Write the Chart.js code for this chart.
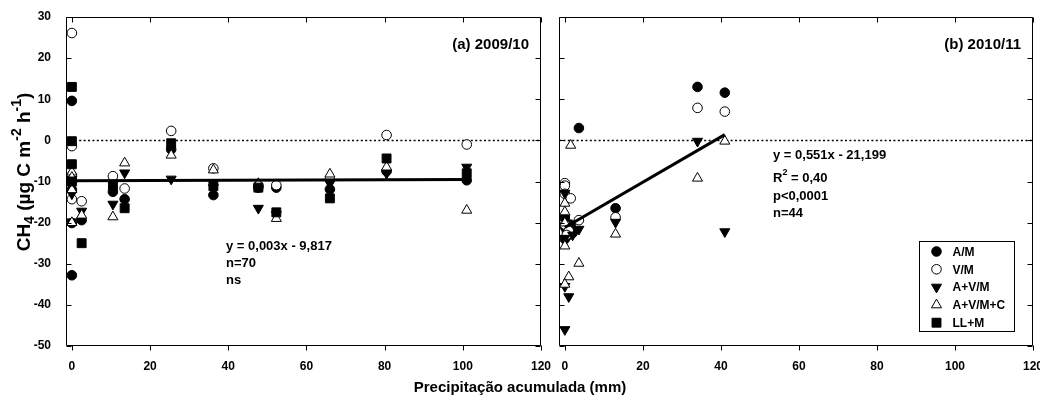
<!DOCTYPE html>
<html>
<head>
<meta charset="utf-8">
<title>CH4 x precipitação</title>
<script src="https://cdn.jsdelivr.net/npm/chart.js@4.4.1/dist/chart.umd.min.js"></script>
<style>
    body { margin: 0; background: #fff; width: 1040px; height: 400px; position: relative; overflow: hidden; }
    canvas { position: absolute; top: 0; }
    #chartA { left: 0; }
    #chartB { left: 548px; }
    #xTitle {
        position: absolute; left: 0; top: 378px; width: 1040px; text-align: center;
        font: bold 15px "Liberation Sans", Arial, sans-serif; color: #000;
    }
</style>
</head>
<body>
<canvas id="chartA" width="562" height="400"></canvas>
<canvas id="chartB" width="492" height="400"></canvas>
<div id="xTitle">Precipitação acumulada (mm)</div>
<script>
// Series and axis ticks
const seriesNames = ['A/M', 'V/M', 'A+V/M', 'A+V/M+C', 'LL+M'];
const xTicks = [0, 20, 40, 60, 80, 100, 120];
const yTicks = [-50, -40, -30, -20, -10, 0, 10, 20, 30];

// (a) 2009/10 - same precipitation values for every treatment
const precipA = [0, 0, 0, 0, 2.5, 10.5, 13.5, 25.4, 36.2, 47.7, 52.3, 66, 80.5, 101];
const amA    = [9.6, -12, -20.1, -32.8, -19.4, -12.5, -14.3, -2.2, -13.3, -11.5, -11.5, -11.9, -7.5, -9.7];
const vmA    = [26.1, -1.4, -8.5, -14.3, -14.8, -8.7, -11.7, 2.3, -6.8, -11, -10.9, -9.5, 1.3, -1.0];
const avmA   = [-9.5, -11, -13, -19.8, -17.2, -15.5, -7.9, -9.4, -11.5, -16.5, -18, -10.5, -8, -6.5];
const avmcA  = [-7.7, -9, -12, -20, -18.2, -18.6, -5.5, -3.6, -7.2, -10.5, -19, -8.2, -6.5, -17];
const llmA   = [13, -0.2, -5.8, -10, -25, -11, -16.5, -0.7, -11.1, -11.5, -17.5, -14.1, -4.4, -8];

// (b) 2010/11 - no LL+M samples
const amBx   = [0, 0, 0.5, 1, 0, 1.5, 2, 3.6, 13, 34, 41];
const amB    = [-19, -21, -22, -23, -24, -20.5, -22.5, 3.0, -16.5, 13.0, 11.6];
const vmBx   = [0, 0, 0, 1.5, 0, 1, 0.5, 3.6, 13, 34, 41];
const vmB    = [-10.4, -11, -13, -14.1, -20.5, -22, -23, -19.4, -18.7, 7.9, 7.0];
const avmBx  = [0, 0, 0, 0, 1, 2, 0, 3.6, 13, 34, 41];
const avmB   = [-12.8, -19, -23.8, -35.5, -38, -23, -46, -21.6, -19.9, -0.2, -22.2];
const avmcBx = [1.5, 0, 0, 0, 0, 1, 0, 3.6, 13, 34, 41];
const avmcB  = [-1.2, -15.3, -17.4, -20.1, -25.7, -33.2, -35, -29.9, -22.8, -9.2, -0.2];

// Linear fits: slope, intercept, fitted range
const fitA = { slope: 0.003, intercept: -9.817, from: 0, to: 101 };
const fitB = { slope: 0.551, intercept: -21.199, from: 0, to: 41 };

const FONT = '"Liberation Sans", Arial, sans-serif';

const markers = [
    { pointStyle: 'circle',   fill: '#000', rotation: 0,   radius: 4.8 },
    { pointStyle: 'circle',   fill: '#fff', rotation: 0,   radius: 4.8 },
    { pointStyle: 'triangle', fill: '#000', rotation: 180, radius: 5.8 },
    { pointStyle: 'triangle', fill: '#fff', rotation: 0,   radius: 5.8 },
    { pointStyle: 'rect',     fill: '#000', rotation: 0,   radius: 6.3 }
];

function pointSet(i, xs, ys) {
    const m = markers[i];
    return {
        label: seriesNames[i],
        data: ys.map((y, k) => ({ x: xs[k], y: y })),
        pointStyle: m.pointStyle,
        rotation: m.rotation,
        pointRadius: m.radius,
        backgroundColor: m.fill,
        borderColor: '#000',
        borderWidth: 1,
        showLine: false,
        order: 5 - i
    };
}

function fitSet(fit) {
    return {
        label: 'fit',
        data: [fit.from, fit.to].map(x => ({ x: x, y: fit.slope * x + fit.intercept })),
        showLine: true,
        borderColor: '#000',
        borderWidth: 3,
        pointRadius: 0,
        order: -1
    };
}

// text with sub/superscript pieces: [text, 'sub'|'sup'|undefined]
function richText(ctx, parts, x, y, size, align) {
    const small = Math.round(size * 0.72);
    const widths = parts.map(p => {
        ctx.font = 'bold ' + (p[1] ? small : size) + 'px ' + FONT;
        return ctx.measureText(p[0]).width;
    });
    const total = widths.reduce((a, b) => a + b, 0);
    let cx = align === 'center' ? x - total / 2 : x;
    parts.forEach((p, i) => {
        ctx.font = 'bold ' + (p[1] ? small : size) + 'px ' + FONT;
        let dy = 0;
        if (p[1] === 'sup') dy = -size * 0.42;
        if (p[1] === 'sub') dy = size * 0.25;
        ctx.fillText(p[0], cx, y + dy);
        cx += widths[i];
    });
}

// frame, inward ticks, dotted zero line and text notes
const framePlugin = {
    id: 'frame',
    beforeDatasetsDraw(chart) {
        const { ctx, chartArea: a, scales: { y } } = chart;
        const y0 = Math.round(y.getPixelForValue(0)) + 0.5;
        ctx.save();
        ctx.strokeStyle = '#000';
        ctx.lineWidth = 1.5;
        ctx.setLineDash([2, 2.4]);
        ctx.beginPath();
        ctx.moveTo(a.left, y0);
        ctx.lineTo(a.right, y0);
        ctx.stroke();
        ctx.restore();
    },
    afterDatasetsDraw(chart, args, opts) {
        const { ctx, chartArea: a, scales: { x, y } } = chart;
        const L = Math.round(a.left) + 0.5, R = Math.round(a.right) - 0.5;
        const T = Math.round(a.top) + 0.5, B = Math.round(a.bottom) - 0.5;
        ctx.save();
        ctx.strokeStyle = '#000';
        ctx.lineWidth = 1;
        ctx.beginPath();
        ctx.rect(L, T, R - L, B - T);
        xTicks.forEach(v => {
            const px = Math.round(x.getPixelForValue(v)) + 0.5;
            ctx.moveTo(px, B); ctx.lineTo(px, B + 5);
            ctx.moveTo(px, T); ctx.lineTo(px, T + 5);
        });
        yTicks.forEach(v => {
            const py = Math.round(y.getPixelForValue(v)) + 0.5;
            ctx.moveTo(L, py); ctx.lineTo(L + 5, py);
            ctx.moveTo(R, py); ctx.lineTo(R - 5, py);
        });
        ctx.stroke();

        ctx.fillStyle = '#000';
        ctx.textBaseline = 'middle';
        ctx.textAlign = 'right';
        ctx.font = 'bold 15px ' + FONT;
        ctx.fillText(opts.title, a.right - 12, a.top + 28);

        ctx.textAlign = 'left';
        opts.notes.forEach(n => richText(ctx, n.parts, n.x, n.y, 13, 'left'));

        if (opts.yTitle) {
            ctx.save();
            ctx.translate(25, 172);
            ctx.rotate(-Math.PI / 2);
            richText(ctx, [['CH'], ['4', 'sub'], [' (µg C m'], ['-2', 'sup'], [' h'], ['-1', 'sup'], [')']], 0, 0, 19, 'center');
            ctx.restore();
        }
        if (opts.legend) drawLegend(ctx, a);
        ctx.restore();
    }
};

function drawLegend(ctx, a) {
    const bx = a.right - 113.5, by = a.bottom - 104.5, bw = 95, bh = 90;
    ctx.lineWidth = 1;
    ctx.strokeStyle = '#000';
    ctx.fillStyle = '#fff';
    ctx.fillRect(bx, by, bw, bh);
    ctx.strokeRect(bx, by, bw, bh);
    seriesNames.forEach((name, i) => {
        const cy = by + 10 + i * 17.8;
        const m = markers[i];
        ctx.fillStyle = m.fill;
        ctx.strokeStyle = '#000';
        Chart.helpers.drawPoint(ctx, {
            pointStyle: m.pointStyle, rotation: m.rotation, radius: m.radius, borderWidth: 1
        }, bx + 17, cy);
        ctx.fillStyle = '#000';
        ctx.font = 'bold 12px ' + FONT;
        ctx.textAlign = 'left';
        ctx.textBaseline = 'middle';
        ctx.fillText(name, bx + 33, cy + 1);
    });
}

function axisOpts(showLabels, yWidth) {
    return {
        x: {
            type: 'linear', min: -1.5, max: 120,
            afterBuildTicks: s => { s.ticks = xTicks.map(v => ({ value: v })); },
            afterFit: s => { s.height = 54; s.paddingLeft = 0; s.paddingRight = 0; },
            grid: { display: false }, border: { display: false },
            ticks: { color: '#000', padding: 5, maxRotation: 0, font: { family: FONT, weight: 'bold', size: 12 } }
        },
        y: {
            type: 'linear', min: -50, max: 30,
            afterBuildTicks: s => { s.ticks = yTicks.map(v => ({ value: v })); },
            afterFit: s => { s.width = yWidth; s.paddingTop = 0; s.paddingBottom = 0; },
            grid: { display: false }, border: { display: false },
            ticks: { display: showLabels, color: '#000', padding: 7, font: { family: FONT, weight: 'bold', size: 12 } }
        }
    };
}

function panel(canvasId, datasets, frameOpts, showLabels, yWidth, padRight) {
    return new Chart(document.getElementById(canvasId), {
        type: 'scatter',
        data: { datasets: datasets },
        options: {
            responsive: false,
            animation: false,
            events: [],
            layout: { padding: { top: 17, right: padRight, left: 0, bottom: 0 } },
            plugins: { legend: { display: false }, tooltip: { enabled: false }, frame: frameOpts },
            scales: axisOpts(showLabels, yWidth)
        },
        plugins: [framePlugin]
    });
}

panel('chartA', [
    pointSet(0, precipA, amA),
    pointSet(1, precipA, vmA),
    pointSet(2, precipA, avmA),
    pointSet(3, precipA, avmcA),
    pointSet(4, precipA, llmA),
    fitSet(fitA)
], {
    title: '(a) 2009/10',
    yTitle: true,
    notes: [
        { parts: [['y = 0,003x - 9,817']], x: 226, y: 246 },
        { parts: [['n=70']], x: 226, y: 263 },
        { parts: [['ns']], x: 226, y: 280 }
    ]
}, true, 66, 21);

panel('chartB', [
    pointSet(0, amBx, amB),
    pointSet(1, vmBx, vmB),
    pointSet(2, avmBx, avmB),
    pointSet(3, avmcBx, avmcB),
    fitSet(fitB)
], {
    title: '(b) 2010/11',
    legend: true,
    notes: [
        { parts: [['y = 0,551x - 21,199']], x: 773 - 548, y: 155 },
        { parts: [['R'], ['2', 'sup'], [' = 0,40']], x: 773 - 548, y: 178 },
        { parts: [['p<0,0001']], x: 773 - 548, y: 196 },
        { parts: [['n=44']], x: 773 - 548, y: 213 }
    ]
}, false, 11, 7);
</script>
</body>
</html>
